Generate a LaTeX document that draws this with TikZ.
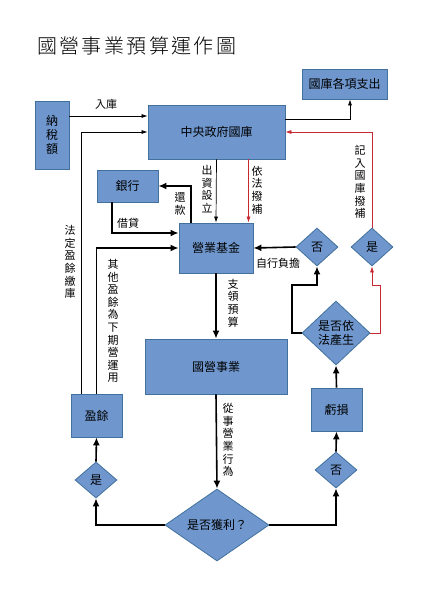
\documentclass[tikz,border=0pt]{standalone}
\usepackage{fontspec}
\newfontfamily\cjk{Noto Sans CJK TC}
\newfontfamily\titlefont[LetterSpace=12]{Noto Sans CJK TC Light}
\usetikzlibrary{shapes.geometric,arrows.meta}
\definecolor{boxfill}{RGB}{111,151,206}
\definecolor{boxline}{RGB}{65,113,156}
\definecolor{redline}{RGB}{200,40,50}
\begin{document}
\begin{tikzpicture}[x=1pt,y=-1pt,
    font=\cjk\fontsize{12}{14}\selectfont,
    box/.style={draw=boxline, fill=boxfill, line width=0.8pt, inner sep=0pt},
    dia/.style={draw=boxline, fill=boxfill, line width=0.8pt, diamond, aspect=1.2, inner sep=0pt},
    vlabel/.style={align=center, inner sep=0pt, font=\cjk\fontsize{11}{12.6}\selectfont},
    hlabel/.style={inner sep=0pt, font=\cjk\fontsize{11}{13}\selectfont},
    thinarr/.style={-{Latex[length=6pt,width=4pt]}, line width=0.7pt},
    thickarr/.style={-{Latex[length=8pt,width=7pt]}, line width=1.6pt},
    redarr/.style={-{Latex[length=6pt,width=4pt]}, line width=0.7pt, redline}]
            % Canvas
            \useasboundingbox[fill=white] (0,0) rectangle (425,600);

            % Title
            \node[inner sep=0pt, anchor=west, font=\titlefont\fontsize{20}{24}\selectfont] (title) at (37,46) {國營事業預算運作圖};

            % Boxes
            \node[box, minimum width=85, minimum height=30] (out) at (344.5,84) {國庫各項支出};
            \node[box, minimum width=137, minimum height=54] (tre) at (216.5,132) {中央政府國庫};
            \node[box, minimum width=34, minimum height=68, align=center] (tax) at (52,135) {納\\稅\\額};
            \node[box, minimum width=61, minimum height=32] (bank) at (127.5,186) {銀行};
            \node[box, minimum width=74, minimum height=50] (fund) at (216,248) {營業基金};
            \node[box, minimum width=142, minimum height=55] (soe) at (216,366.5) {國營事業};
            \node[box, minimum width=51, minimum height=43] (surp) at (96.5,415.5) {盈餘};
            \node[box, minimum width=51, minimum height=43] (loss) at (336.5,409.5) {虧損};

            % Decisions
            \node[dia, minimum width=104, minimum height=72] (profit) at (217,525) {是否獲利？};
            \node[dia, minimum width=42, minimum height=36] (yesL) at (96,480) {是};
            \node[dia, minimum width=42, minimum height=36] (noL) at (336,470) {否};
            \node[dia, minimum width=68, minimum height=64, align=center] (legal) at (336,333) {是否依\\法產生};
            \node[dia, minimum width=42, minimum height=38] (noU) at (317,247) {否};
            \node[dia, minimum width=42, minimum height=38] (yesU) at (372,247) {是};

            % Bend points
            \coordinate (k1) at (292,285);
            \coordinate (k2) at (380,285);

            % Treasury connectors
            \draw[thinarr] ([yshift=19pt]tax.east) -- ([yshift=16pt]tre.west);
            \node[hlabel] (lin) at (106,104) {入庫};
            \draw[thinarr] ([yshift=13pt]tre.east) -| ([xshift=5.5pt]out.south);
            \draw[thinarr] ([xshift=-15.5pt]surp.north) |- (tre.west);
            \node[vlabel] (lpay) at (70,262) {法\\定\\盈\\餘\\繳\\庫};

            % Fund connectors
            \draw[thinarr] (tre.south) -- (fund.north);
            \node[vlabel] (linv) at (207,189) {出\\資\\設\\立};
            \draw[redarr] ([xshift=32pt]tre.south) -- ([xshift=32pt]tre.south |- fund.north);
            \node[vlabel] (lsub) at (257,190) {依\\法\\撥\\補};
            \draw[thickarr] ([xshift=-25pt]fund.north) |- (bank.east);
            \node[vlabel] (lret) at (180,204) {還\\款};
            \draw[thickarr] ([xshift=-15.5pt]bank.south) |- ([yshift=15pt]fund.west);
            \node[hlabel] (lloan) at (128,223) {借貸};
            \draw[thickarr] (surp.north) |- (fund.west);
            \node[vlabel] (lnext) at (113,321) {其\\他\\盈\\餘\\為\\下\\期\\營\\運\\用};

            % Main flow
            \draw[thickarr] (fund.south) -- (soe.north);
            \node[vlabel] (lbud) at (233,303) {支\\領\\預\\算};
            \draw[thickarr] (soe.south) -- (profit.north);
            \node[vlabel] (lact) at (228,440) {從\\事\\營\\業\\行\\為};
            \draw[thickarr] (profit.west) -| (yesL.south);
            \draw[thickarr] (profit.east) -| (noL.south);
            \draw[thickarr] (yesL.north) -- (surp.south);
            \draw[thickarr] (noL.north) -- (loss.south);
            \draw[thickarr] (loss.north) -- (legal.south);

            % Loss handling
            \draw[thickarr] (legal.west) -| (k1) -| (noU.south);
            \draw[redarr] (legal.east) -| (k2) -| (yesU.south);
            \draw[thickarr] (noU.west) -- (fund.east);
            \node[hlabel] (lself) at (278,263) {自行負擔};
            \draw[redarr] (yesU.north) |- (tre.east);
            \node[vlabel] (lrec) at (360,182) {記\\入\\國\\庫\\撥\\補};
\end{tikzpicture}
\end{document}
